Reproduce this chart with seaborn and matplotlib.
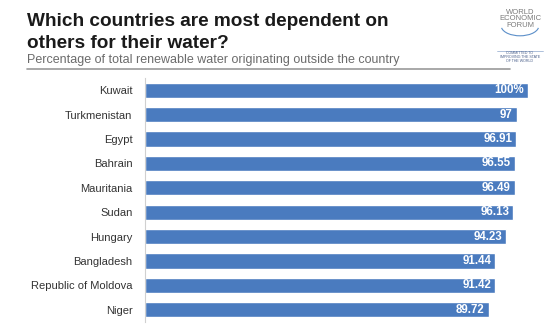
import matplotlib
matplotlib.use("Agg")
import matplotlib.pyplot as plt
import seaborn as sns
import pandas as pd
from matplotlib.patches import Arc

countries = ["Kuwait", "Turkmenistan", "Egypt", "Bahrain", "Mauritania", "Sudan",
             "Hungary", "Bangladesh", "Republic of Moldova", "Niger"]
values = [100, 97, 96.91, 96.55, 96.49, 96.13, 94.23, 91.44, 91.42, 89.72]
value_labels = ["100%", "97", "96.91", "96.55", "96.49", "96.13", "94.23", "91.44", "91.42", "89.72"]
title_lines = ["Which countries are most dependent on", "others for their water?"]
subtitle = "Percentage of total renewable water originating outside the country"

df = pd.DataFrame({"country": countries, "value": values})

sns.set_theme(style="white")
plt.rcParams['font.family'] = ['Liberation Sans', 'DejaVu Sans']

fig = plt.figure(figsize=(5.52, 3.25), dpi=100)
ax = fig.add_axes([145/552, 1-322/325, (528-145)/552, (322-78)/325])

sns.barplot(data=df, x="value", y="country", orient="h", color="#4a7bbf",
            saturation=1, width=0.62, ax=ax)
ax.set_xlim(0, 100)
ax.set_ylim(9.5, -0.5)
ax.set_xlabel("")
ax.set_ylabel("")
ax.set_xticks([])
ax.tick_params(axis="y", length=0, pad=9, labelsize=8.0, labelcolor="#333333")
for s in ["top", "right", "bottom"]:
    ax.spines[s].set_visible(False)
ax.spines["left"].set_color("#d0d0d0")
ax.spines["left"].set_linewidth(0.8)

for i, (v, lab) in enumerate(zip(values, value_labels)):
    ax.text(v - 1.0, i, lab, ha="right", va="center", color="white",
            fontsize=8.3, fontweight="bold")

# Titles
fig.text(27/552, 1-26.5/325, title_lines[0], ha="left", va="baseline",
         fontsize=13.7, fontweight="bold", color="#1a1a1a")
fig.text(27/552, 1-48.5/325, title_lines[1], ha="left", va="baseline",
         fontsize=13.7, fontweight="bold", color="#1a1a1a")
fig.text(27/552, 1-63/325, subtitle,
         ha="left", va="baseline", fontsize=9, color="#6b6b6b")
fig.add_artist(plt.Line2D([27/552, 510/552], [1-69/325, 1-69/325],
                          color="#9a9a9a", linewidth=1.2, transform=fig.transFigure))

# Logo
fig.text(520/552, 1-19/325, "WORLD\nECONOMIC\nFORUM", ha="center", va="center",
         fontsize=5.5, color="#7a7a7a", linespacing=0.95)
logo_ax = fig.add_axes([495/552, 1-40/325, 50/552, 14/325])
logo_ax.set_xlim(0, 1); logo_ax.set_ylim(0, 1); logo_ax.axis("off")
logo_ax.add_patch(Arc((0.5, 1.0), 0.75, 1.4, theta1=200, theta2=340,
                      color="#5b8fc9", linewidth=0.8))
fig.text(520/552, 1-57/325, "COMMITTED TO\nIMPROVING THE STATE\nOF THE WORLD",
         ha="center", va="center", fontsize=2.6, color="#4a5f8a", linespacing=1.0)
fig.add_artist(plt.Line2D([497/552, 543/552], [1-51/325, 1-51/325],
                          color="#8da6cc", linewidth=0.5, transform=fig.transFigure))

fig.savefig("out.png", dpi=100)
